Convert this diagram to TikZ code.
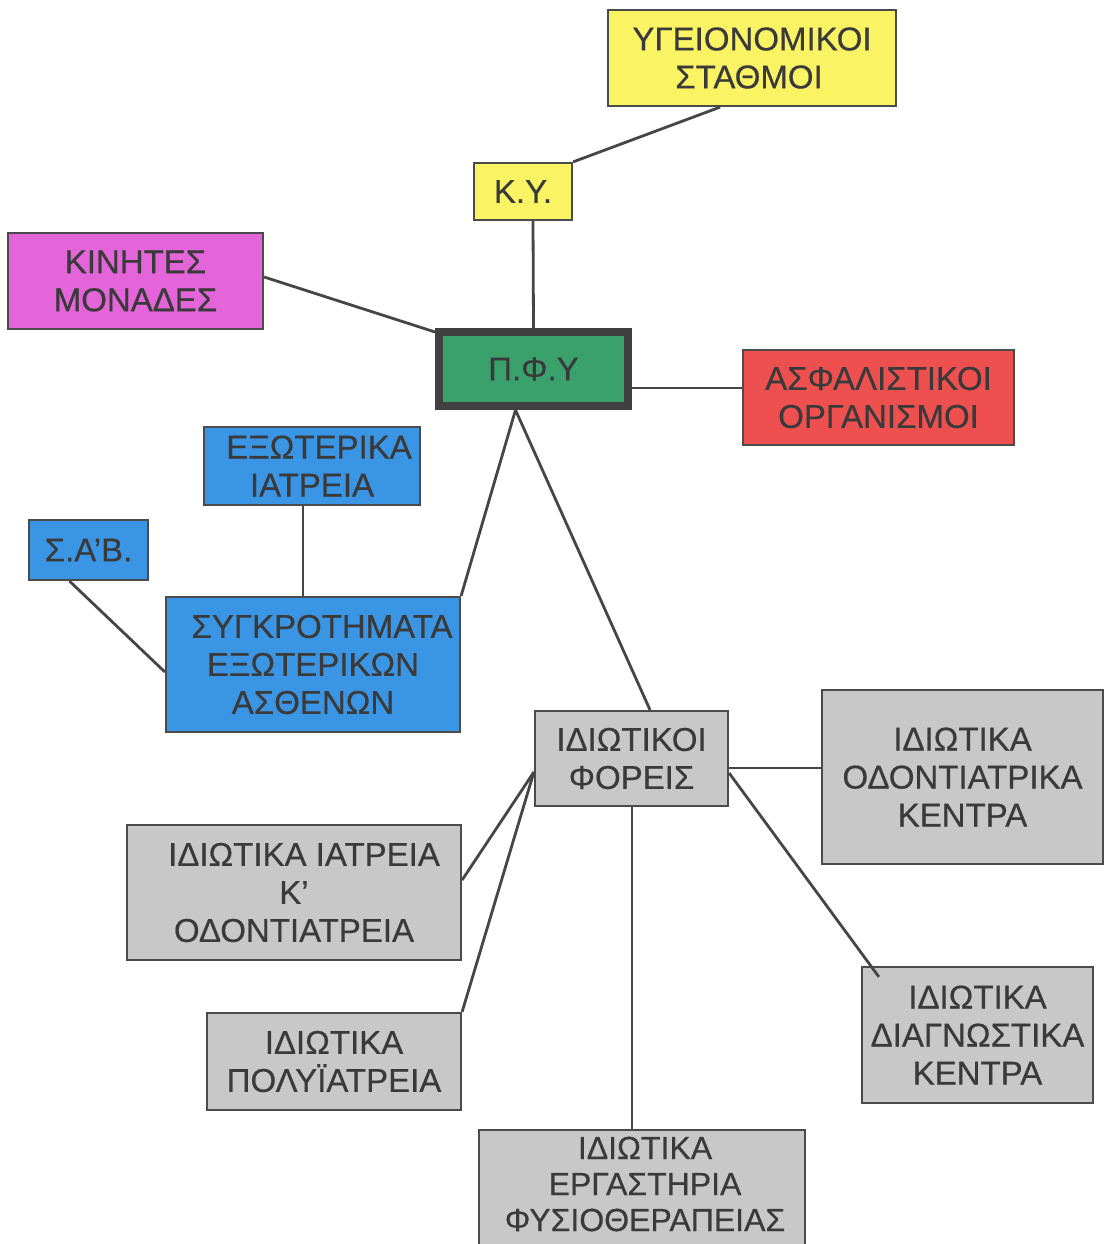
\documentclass[tikz,border=0pt]{standalone}
\usepackage{fontspec}
\setmainfont{Liberation Sans}[BoldFont={Liberation Sans}, BoldFeatures={FakeBold=0.5}]
\usetikzlibrary{calc}
\definecolor{cyel}{RGB}{250,244,100}
\definecolor{cmag}{RGB}{228,100,218}
\definecolor{cgrn}{RGB}{58,160,108}
\definecolor{cred}{RGB}{238,80,80}
\definecolor{cblu}{RGB}{58,150,228}
\definecolor{cgry}{RGB}{200,200,200}
\definecolor{bordc}{RGB}{75,75,75}
\definecolor{txtc}{RGB}{58,58,58}
\definecolor{linec}{RGB}{70,70,70}
\begin{document}
\begin{tikzpicture}[x=1pt,y=-1pt,
  txt/.style={align=center, inner sep=0pt, text=txtc, font=\fontsize{33}{37}\selectfont\bfseries},
  box/.style={txt, draw=bordc, line width=2.2pt, rectangle, font=\fontsize{33}{38}\selectfont\bfseries},
  conn/.style={draw=linec, line width=2.8pt}]
\fill[white] (0,0) rectangle (1105,1244);
\useasboundingbox (0,0) rectangle (1105,1244);

\node[box, fill=cyel, minimum width=288pt, minimum height=96pt] (yg) at (752,58) {ΥΓΕΙΟΝΟΜΙΚΟΙ\\ΣΤΑΘΜΟΙ\hspace*{6pt}\hspace*{0pt}};
\node[box, fill=cyel, minimum width=98pt, minimum height=57pt] (ky) at (523,191.5) {Κ.Υ.};
\node[box, fill=cmag, minimum width=255pt, minimum height=96pt] (kin) at (135.5,281) {ΚΙΝΗΤΕΣ\\ΜΟΝΑΔΕΣ};
\node[box, fill=cgrn, draw=bordc!85!black, line width=8pt, minimum width=189pt, minimum height=74pt] (pfy) at (533.5,369) {\raisebox{-5pt}{Π.Φ.Υ}};
\node[box, fill=cred, minimum width=271pt, minimum height=95pt] (asf) at (878.5,397.5) {ΑΣΦΑΛΙΣΤΙΚΟΙ\\ΟΡΓΑΝΙΣΜΟΙ};
\node[box, fill=cblu, minimum width=216pt, minimum height=78pt] (exo) at (312,466) {\hspace*{14pt}ΕΞΩΤΕΡΙΚΑ\\ΙΑΤΡΕΙΑ};
\node[box, fill=cblu, minimum width=119pt, minimum height=60pt] (sab) at (88.5,550) {Σ.Α’Β.};
\node[box, fill=cblu, minimum width=294pt, minimum height=135pt] (syg) at (313,664.5) {\hspace*{18pt}ΣΥΓΚΡΟΤΗΜΑΤΑ\\ΕΞΩΤΕΡΙΚΩΝ\\ΑΣΘΕΝΩΝ};
\node[box, fill=cgry, minimum width=193pt, minimum height=95pt] (idf) at (631.5,758.5) {ΙΔΙΩΤΙΚΟΙ\\ΦΟΡΕΙΣ};
\node[box, fill=cgry, minimum width=281pt, minimum height=174pt] (odo) at (962.5,777) {ΙΔΙΩΤΙΚΑ\\ΟΔΟΝΤΙΑΤΡΙΚΑ\\ΚΕΝΤΡΑ};
\node[box, fill=cgry, minimum width=334pt, minimum height=135pt] (iat) at (294,892.5) {\hspace*{20pt}ΙΔΙΩΤΙΚΑ ΙΑΤΡΕΙΑ\\Κ'\\ΟΔΟΝΤΙΑΤΡΕΙΑ};
\node[box, fill=cgry, minimum width=254pt, minimum height=97pt] (pol) at (334,1061.5) {ΙΔΙΩΤΙΚΑ\\ΠΟΛΥΪΑΤΡΕΙΑ};
\node[box, fill=cgry, minimum width=231pt, minimum height=136pt] (diag) at (977.5,1035) {ΙΔΙΩΤΙΚΑ\\ΔΙΑΓΝΩΣΤΙΚΑ\\ΚΕΝΤΡΑ};
\node[box, fill=cgry, minimum width=326pt, minimum height=126pt] (erg) at (642,1193) {};
\node[txt, font=\fontsize{32}{36}\selectfont\bfseries] (ergtxt) at (645,1184) {ΙΔΙΩΤΙΚΑ\\ΕΡΓΑΣΤΗΡΙΑ\\ΦΥΣΙΟΘΕΡΑΠΕΙΑΣ};

\draw[conn] ($(yg.south west)!0.39!(yg.south east)$) -- (ky.north east);
\draw[conn] ($(ky.south)+(10,0)$) -- (pfy.north);
\draw[conn] ($(kin.east)+(0,-4)$) -- ($(pfy.north west)+(0,4)$);
\draw[conn] ($(pfy.east)+(0,19)$) -- ($(asf.west)+(0,-9.5)$);
\draw[conn] ($(pfy.south)+(-18,0)$) -- (syg.north east);
\draw[conn] ($(pfy.south)+(-18,0)$) -- ($(idf.north)+(18.5,0)$);
\draw[conn] ($(exo.south)+(-9,0)$) -- ($(syg.north)+(-10,0)$);
\draw[conn] ($(sab.south)+(-19,0)$) -- ($(syg.west)+(0,7.5)$);
\draw[conn] ($(idf.west)+(0,13.5)$) -- ($(iat.east)+(0,-12.5)$);
\draw[conn] ($(idf.west)+(0,13.5)$) -- (pol.north east);
\draw[conn] ($(idf.south)+(0.5,0)$) -- ($(erg.north)+(-10,0)$);
\draw[conn] ($(idf.east)+(0,9.5)$) -- ($(odo.west)+(0,-9)$);
\draw[conn] ($(idf.east)+(0,14.5)$) -- ($(diag.north west)+(18,11)$);
\end{tikzpicture}
\end{document}
